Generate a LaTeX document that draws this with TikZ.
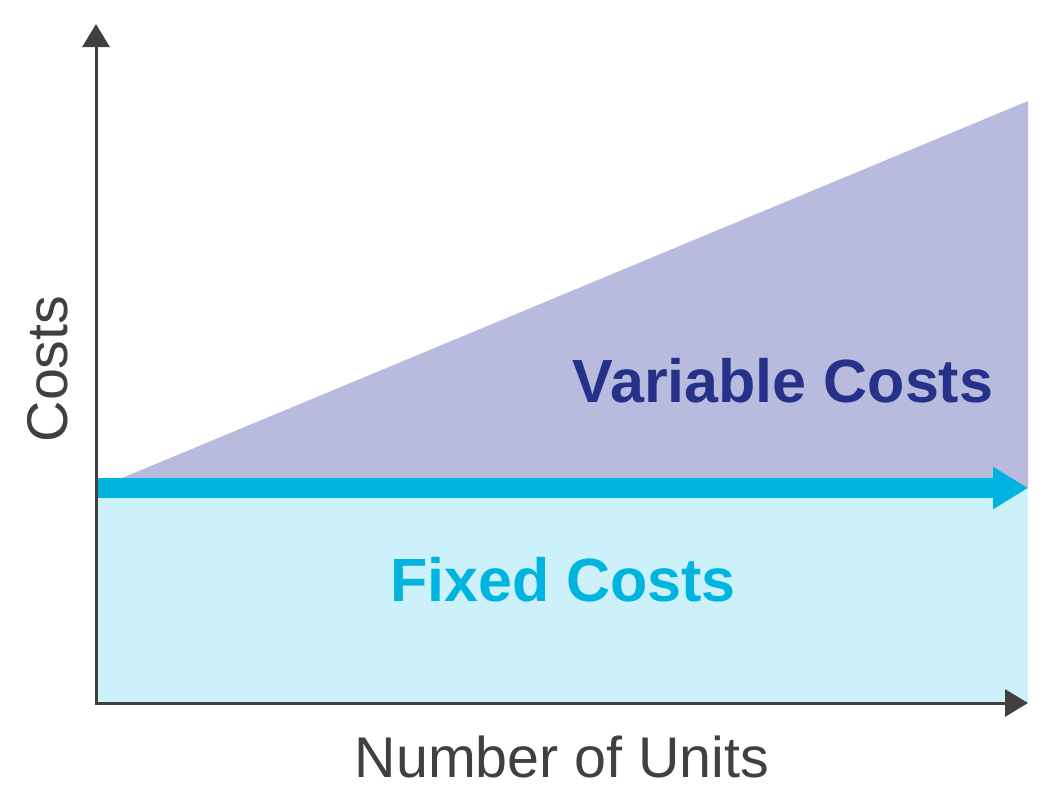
\documentclass[tikz,border=0pt]{standalone}
\usepackage{fontspec}
\setmainfont{Liberation Sans}
\usepackage{tikz}
\usetikzlibrary{ arrows.meta, % For the triangle tips
                 positioning, % For easy node-relative placements
               }

\definecolor{axisgray}{HTML}{404040}
\definecolor{varfill}{HTML}{B9BBDE}
\definecolor{varnavy}{HTML}{263189}
\definecolor{fixfill}{HTML}{CCF1FA}
\definecolor{fixblue}{HTML}{00B4E0}

\tikzset{
  axis/.style={draw=axisgray, line width=1.5pt,
               {Triangle[width=13.5pt,length=11.5pt]}-{Triangle[width=13.5pt,length=11.5pt]}},
  band/.style={draw=fixblue, line width=10pt,
               -{Triangle[width=20pt,length=17.5pt]}},
  axislabel/.style={text=axisgray, font=\fontsize{28.7pt}{34pt}\selectfont, inner sep=0pt},
  arealabel/.style={font=\fontsize{30.5pt}{36pt}\selectfont\bfseries, inner sep=0pt},
}

\begin{document}
\begin{tikzpicture}[x=0.5pt, y=-0.5pt] % one unit is one pixel of the reference
  \useasboundingbox (0,0) rectangle (1052,800);

  \coordinate (origin) at (96,703);
  \coordinate (ytop) at (96,24);
  \coordinate (xend) at (1028,703);
  \coordinate (start) at (122,478);
  \coordinate (peak) at (1028,101);
  \coordinate (corner) at (1028,488);

  % areas
  \fill[fixfill] (96,488) rectangle (1028,703);
  \fill[varfill] (start) -- (peak) -- (corner) -- (122,488) -- cycle;

  % fixed costs line
  \coordinate (bandstart) at (96,488);
  \coordinate (bandend) at (1028,488);
  \draw[band] (bandstart) -- (bandend);

  % axes
  \draw[axis] (ytop) |- (xend);

  \node[arealabel, text=varnavy, anchor=base] (variable) at (783,402) {Variable Costs};
  \node[arealabel, text=fixblue, anchor=base] (fixed) at (563,601) {Fixed Costs};
  \node[axislabel, anchor=base] (units) at (562,777) {Number of Units};
  \node[axislabel, anchor=base, rotate=90] (costs) at (67,369) {Costs};
\end{tikzpicture}
\end{document}
